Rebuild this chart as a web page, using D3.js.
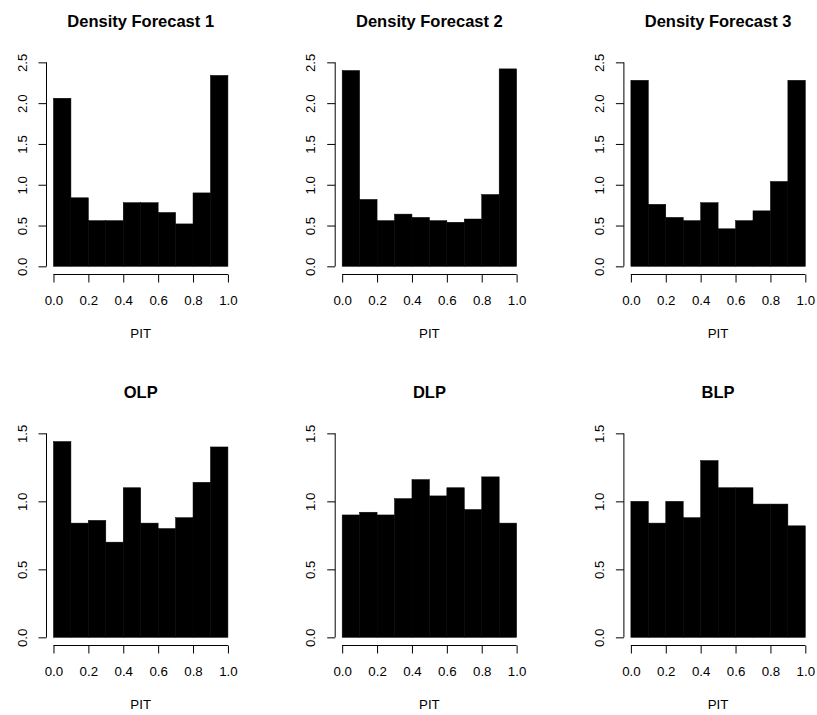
<!DOCTYPE html>
<html>
<head>
<meta charset="utf-8">
<script src="https://cdn.jsdelivr.net/npm/d3@7"></script>
<style>
  body { margin: 0; background: #fff; }
  svg { display: block; }
  text { font-family: "Liberation Sans", Arial, Helvetica, sans-serif; fill: #000; }
</style>
</head>
<body>
<div id="chart"></div>
<script>
/*global d3 */

//*************************1. Data (densities)

const titles = ["Density Forecast 1", "Density Forecast 2", "Density Forecast 3", "OLP", "DLP", "BLP"]
const binEdges = [0, 0.1, 0.2, 0.3, 0.4, 0.5, 0.6, 0.7, 0.8, 0.9, 1.0]

const densityForecast1 = [2.06, 0.84, 0.56, 0.56, 0.78, 0.78, 0.66, 0.52, 0.90, 2.34]
const densityForecast2 = [2.40, 0.82, 0.56, 0.64, 0.60, 0.56, 0.54, 0.58, 0.88, 2.42]
const densityForecast3 = [2.28, 0.76, 0.60, 0.56, 0.78, 0.46, 0.56, 0.68, 1.04, 2.28]
const olp = [1.44, 0.84, 0.86, 0.70, 1.10, 0.84, 0.80, 0.88, 1.14, 1.40]
const dlp = [0.90, 0.92, 0.90, 1.02, 1.16, 1.04, 1.10, 0.94, 1.18, 0.84]
const blp = [1.00, 0.84, 1.00, 0.88, 1.30, 1.10, 1.10, 0.98, 0.98, 0.82]

const xTicks = [0, 0.2, 0.4, 0.6, 0.8, 1.0]
const yTicksTop = [0, 0.5, 1.0, 1.5, 2.0, 2.5]
const yTicksBottom = [0, 0.5, 1.0, 1.5]
const xLabel = "PIT"

const series = [densityForecast1, densityForecast2, densityForecast3, olp, dlp, blp]

//*************************2. Layout

const width = 817, height = 715
const colStep = 288.7, rowStep = 371
const plotLeft0 = 46.5, plotBottom0 = 274.5
const plotW = 188.4, plotH = 220.3
const tickLen = 8
const fmt = d3.format(".1f")

const svg = d3.select("#chart").append("svg")
  .attr("width", width)
  .attr("height", height)

//*************************3. Draw each panel

series.forEach((values, i) => {
  const col = i % 3, row = Math.floor(i / 3)
  const yTicks = row === 0 ? yTicksTop : yTicksBottom
  const yMax = d3.max(yTicks)

  const left = plotLeft0 + col * colStep
  const bottom = plotBottom0 + row * rowStep

  // R-style 4% padding on both axes
  const x = d3.scaleLinear().domain([-0.04, 1.04]).range([left, left + plotW])
  const y = d3.scaleLinear().domain([-0.04 * yMax, 1.04 * yMax]).range([bottom, bottom - plotH])

  const bins = values.map((v, k) => ({x0: binEdges[k], x1: binEdges[k + 1], v}))

  const g = svg.append("g")

  g.selectAll("rect")
    .data(bins)
    .join("rect")
    .attr("x", d => x(d.x0))
    .attr("y", d => y(d.v))
    .attr("width", d => x(d.x1) - x(d.x0))
    .attr("height", d => y(0) - y(d.v))
    .attr("fill", "#000")
    .attr("stroke", "#000")
    .attr("stroke-width", 0.5)

  // x axis
  const xAxis = g.append("g")
    .attr("transform", `translate(0,${bottom})`)
    .call(d3.axisBottom(x).tickValues(xTicks).tickFormat(fmt).tickSize(tickLen).tickSizeOuter(0))
  xAxis.select(".domain").remove()
  xAxis.append("line")
    .attr("x1", x(0)).attr("x2", x(1))
    .attr("stroke", "#000")
  xAxis.selectAll(".tick line").attr("stroke", "#000")
  xAxis.selectAll(".tick text")
    .attr("y", 30.3).attr("dy", null)
    .style("font-size", "13.3px")
    .attr("fill", "#000")

  // y axis
  const yAxis = g.append("g")
    .attr("transform", `translate(${left},0)`)
    .call(d3.axisLeft(y).tickValues(yTicks).tickFormat(fmt).tickSize(tickLen).tickSizeOuter(0))
  yAxis.select(".domain").remove()
  yAxis.append("line")
    .attr("y1", y(0)).attr("y2", y(yMax))
    .attr("stroke", "#000")
  yAxis.selectAll(".tick line").attr("stroke", "#000")
  yAxis.selectAll(".tick text")
    .attr("x", 0).attr("dy", null)
    .attr("text-anchor", "middle")
    .attr("transform", "translate(-20,0) rotate(-90)")
    .style("font-size", "13.3px")
    .attr("fill", "#000")

  // title and axis label
  g.append("text")
    .attr("x", left + plotW / 2)
    .attr("y", bottom - plotH - 26.9)
    .attr("text-anchor", "middle")
    .style("font-size", "16.5px")
    .style("font-weight", "bold")
    .text(titles[i])

  g.append("text")
    .attr("x", left + plotW / 2)
    .attr("y", bottom + 63.2)
    .attr("text-anchor", "middle")
    .style("font-size", "13.3px")
    .text(xLabel)
})
</script>
</body>
</html>
